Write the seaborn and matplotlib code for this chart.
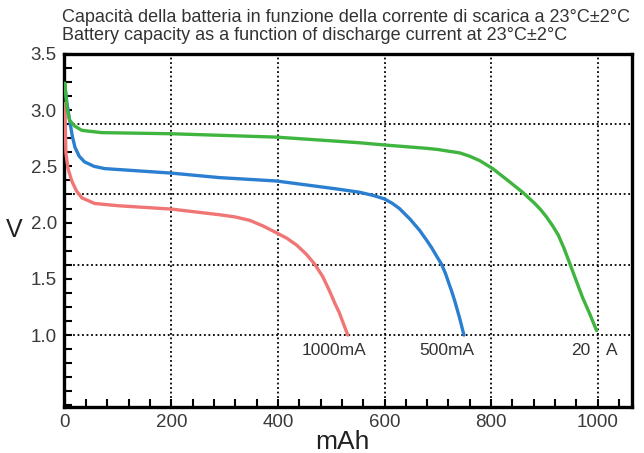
import seaborn as sns
import matplotlib.pyplot as plt
from matplotlib.ticker import MultipleLocator

# discharge curves (mAh, V)
red_mah = [0, 2, 6, 13, 22, 32, 56, 100, 200, 290, 320, 347, 372, 397, 417, 435, 453, 469, 484,
           497, 507, 515, 523, 531]
red_v = [3.06, 2.62, 2.48, 2.37, 2.28, 2.22, 2.17, 2.15, 2.12, 2.07, 2.05, 2.02, 1.97, 1.91, 1.86,
         1.80, 1.72, 1.63, 1.52, 1.39, 1.28, 1.20, 1.10, 1.00]

blue_mah = [0, 4, 9, 14, 19, 27, 37, 55, 75, 200, 290, 397, 509, 553, 580, 600, 615, 628, 648, 666,
            678, 688, 698, 707, 715, 720, 726, 732, 741, 749]
blue_v = [3.22, 3.06, 2.91, 2.77, 2.67, 2.59, 2.54, 2.50, 2.48, 2.44, 2.40, 2.37, 2.30, 2.27, 2.24,
          2.21, 2.17, 2.125, 2.03, 1.93, 1.85, 1.78, 1.70, 1.63, 1.54, 1.47, 1.39, 1.30, 1.15, 1.00]

green_mah = [0, 4, 9, 18, 32, 69, 200, 397, 553, 600, 680, 700, 720, 741, 760, 779, 803, 830, 859,
             882, 893, 904, 915, 926, 937, 947, 960, 972, 985, 998]
green_v = [3.24, 3.02, 2.91, 2.86, 2.82, 2.80, 2.79, 2.76, 2.71, 2.69, 2.66, 2.65, 2.635, 2.62, 2.59,
           2.55, 2.48, 2.38, 2.27, 2.17, 2.115, 2.05, 1.975, 1.89, 1.77, 1.645, 1.48, 1.33, 1.19, 1.04]

hgrid = [1.0, 1.625, 2.25, 2.875]
vgrid = [200, 400, 600, 800, 1000]

sns.set_style("white")
plt.rcParams['font.family'] = ['Liberation Sans', 'DejaVu Sans']

fig = plt.figure(figsize=(6.44, 4.53), dpi=100)
ax = fig.add_axes([0.099, 0.1015, 0.882, 0.7795])

for g in hgrid:
    ax.axhline(g, color="black", ls=(0, (1, 1.5)), lw=1.3, zorder=1)
for g in vgrid:
    ax.axvline(g, color="black", ls=(0, (1, 1.5)), lw=1.3, zorder=1)

sns.lineplot(x=red_mah, y=red_v, color="#f07575", lw=2.4, ax=ax, sort=False, zorder=3)
sns.lineplot(x=blue_mah, y=blue_v, color="#2b7fd0", lw=2.4, ax=ax, sort=False, zorder=3)
sns.lineplot(x=green_mah, y=green_v, color="#3fb53f", lw=2.4, ax=ax, sort=False, zorder=3)

ax.set_xlim(-2, 1064)
ax.set_ylim(0.36, 3.5)
ax.xaxis.set_major_locator(MultipleLocator(200))
ax.xaxis.set_minor_locator(MultipleLocator(40))
ax.set_yticks([1.0, 1.5, 2.0, 2.5, 3.0, 3.5])
ax.yaxis.set_minor_locator(MultipleLocator(0.125))
ax.tick_params(which="both", direction="in", color="black", width=1.5, length=6,
               bottom=True, left=True)
ax.tick_params(which="major", labelsize=13.5, labelcolor="#3a3a3a", pad=5)
ax.yaxis.set_major_formatter(plt.FuncFormatter(lambda v, p: f"{v:.1f}"))

for s in ax.spines.values():
    s.set_color("black")
    s.set_linewidth(2.4)

ax.set_xlabel("mAh", fontsize=19, labelpad=-5, color="#222222")
ax.xaxis.set_label_coords(0.49, -0.065)
ax.set_ylabel("V", fontsize=18, rotation=0, labelpad=12, color="#222222", va="center")

ax.text(505, 0.93, "1000mA", ha="center", va="top", fontsize=12.5, color="#333333")
ax.text(717, 0.93, "500mA", ha="center", va="top", fontsize=12.5, color="#333333")
ax.text(968, 0.93, "20", ha="center", va="top", fontsize=12.5, color="#333333")
ax.text(1026, 0.93, "A", ha="center", va="top", fontsize=12.5, color="#333333")

fig.text(0.096, 0.962, "Capacità della batteria in funzione della corrente di scarica a 23°C±2°C",
         fontsize=13, color="#333333", va="center")
fig.text(0.096, 0.922, "Battery capacity as a function of discharge current at 23°C±2°C",
         fontsize=13, color="#333333", va="center")

fig.savefig("out.png", dpi=100)
